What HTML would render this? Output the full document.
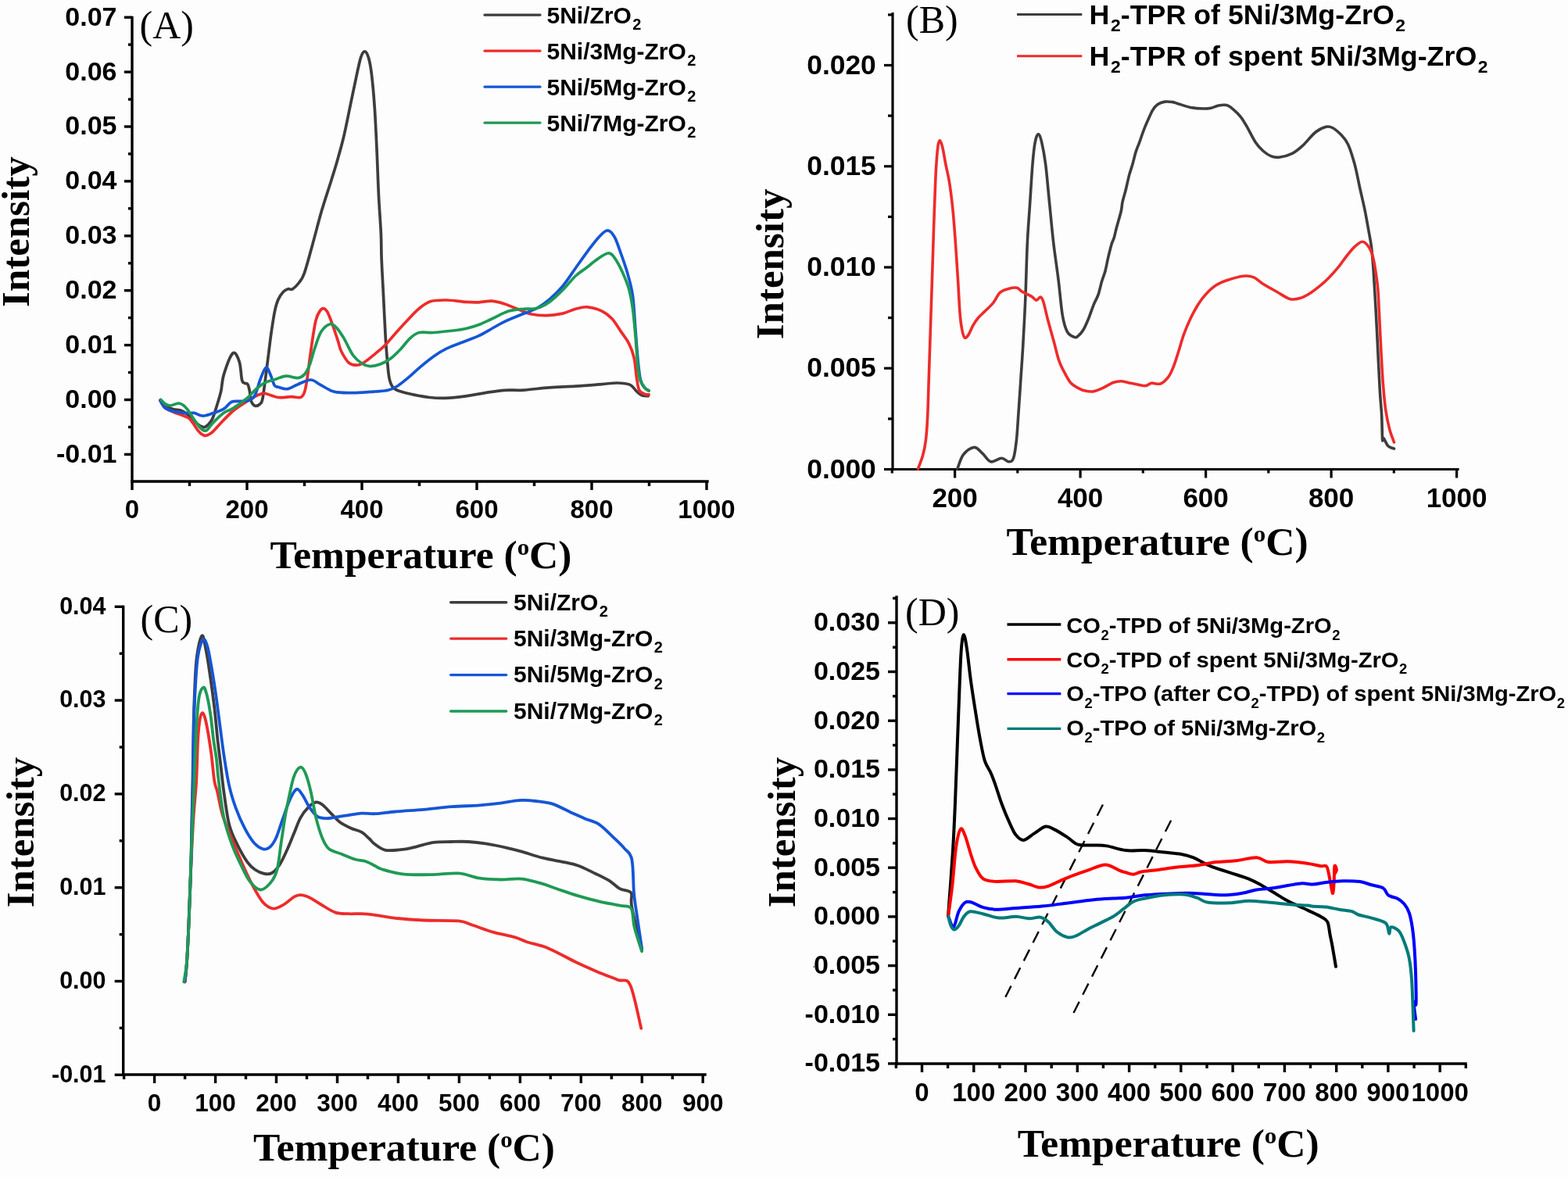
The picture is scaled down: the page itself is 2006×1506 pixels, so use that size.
<!DOCTYPE html>
<html><head><meta charset="utf-8"><title>TPR/TPD figure</title>
<style>html,body{margin:0;padding:0;background:#fff;}svg{display:block;}</style></head>
<body><div class="wrap"><svg width="2006" height="1506" viewBox="0 0 2006 1506">
<rect width="2006" height="1506" fill="#fdfdfd"/>
<line x1="169" y1="22.5" x2="169" y2="616" stroke="#000" stroke-width="3.4" stroke-linecap="square"/>
<line x1="159" y1="581.4" x2="169" y2="581.4" stroke="#000" stroke-width="3.4"/>
<text x="149.5" y="591.8" font-family="'Liberation Sans', Arial, sans-serif" font-size="34" font-weight="bold" text-anchor="end">-0.01</text>
<line x1="159" y1="511.5" x2="169" y2="511.5" stroke="#000" stroke-width="3.4"/>
<text x="149.5" y="521.9" font-family="'Liberation Sans', Arial, sans-serif" font-size="34" font-weight="bold" text-anchor="end">0.00</text>
<line x1="159" y1="441.6" x2="169" y2="441.6" stroke="#000" stroke-width="3.4"/>
<text x="149.5" y="452" font-family="'Liberation Sans', Arial, sans-serif" font-size="34" font-weight="bold" text-anchor="end">0.01</text>
<line x1="159" y1="371.7" x2="169" y2="371.7" stroke="#000" stroke-width="3.4"/>
<text x="149.5" y="382.1" font-family="'Liberation Sans', Arial, sans-serif" font-size="34" font-weight="bold" text-anchor="end">0.02</text>
<line x1="159" y1="301.8" x2="169" y2="301.8" stroke="#000" stroke-width="3.4"/>
<text x="149.5" y="312.2" font-family="'Liberation Sans', Arial, sans-serif" font-size="34" font-weight="bold" text-anchor="end">0.03</text>
<line x1="159" y1="231.9" x2="169" y2="231.9" stroke="#000" stroke-width="3.4"/>
<text x="149.5" y="242.3" font-family="'Liberation Sans', Arial, sans-serif" font-size="34" font-weight="bold" text-anchor="end">0.04</text>
<line x1="159" y1="162" x2="169" y2="162" stroke="#000" stroke-width="3.4"/>
<text x="149.5" y="172.4" font-family="'Liberation Sans', Arial, sans-serif" font-size="34" font-weight="bold" text-anchor="end">0.05</text>
<line x1="159" y1="92.1" x2="169" y2="92.1" stroke="#000" stroke-width="3.4"/>
<text x="149.5" y="102.5" font-family="'Liberation Sans', Arial, sans-serif" font-size="34" font-weight="bold" text-anchor="end">0.06</text>
<line x1="159" y1="22.2" x2="169" y2="22.2" stroke="#000" stroke-width="3.4"/>
<text x="149.5" y="32.6" font-family="'Liberation Sans', Arial, sans-serif" font-size="34" font-weight="bold" text-anchor="end">0.07</text>
<line x1="164" y1="546.5" x2="169" y2="546.5" stroke="#000" stroke-width="3.4"/>
<line x1="164" y1="476.6" x2="169" y2="476.6" stroke="#000" stroke-width="3.4"/>
<line x1="164" y1="406.6" x2="169" y2="406.6" stroke="#000" stroke-width="3.4"/>
<line x1="164" y1="336.8" x2="169" y2="336.8" stroke="#000" stroke-width="3.4"/>
<line x1="164" y1="266.8" x2="169" y2="266.8" stroke="#000" stroke-width="3.4"/>
<line x1="164" y1="196.9" x2="169" y2="196.9" stroke="#000" stroke-width="3.4"/>
<line x1="164" y1="127.1" x2="169" y2="127.1" stroke="#000" stroke-width="3.4"/>
<line x1="164" y1="57.1" x2="169" y2="57.1" stroke="#000" stroke-width="3.4"/>
<line x1="169" y1="616" x2="905" y2="616" stroke="#000" stroke-width="3.4" stroke-linecap="square"/>
<line x1="169" y1="616" x2="169" y2="627" stroke="#000" stroke-width="3.4"/>
<text x="169" y="663" font-family="'Liberation Sans', Arial, sans-serif" font-size="33" font-weight="bold" text-anchor="middle">0</text>
<line x1="316" y1="616" x2="316" y2="627" stroke="#000" stroke-width="3.4"/>
<text x="316" y="663" font-family="'Liberation Sans', Arial, sans-serif" font-size="33" font-weight="bold" text-anchor="middle">200</text>
<line x1="463" y1="616" x2="463" y2="627" stroke="#000" stroke-width="3.4"/>
<text x="463" y="663" font-family="'Liberation Sans', Arial, sans-serif" font-size="33" font-weight="bold" text-anchor="middle">400</text>
<line x1="610" y1="616" x2="610" y2="627" stroke="#000" stroke-width="3.4"/>
<text x="610" y="663" font-family="'Liberation Sans', Arial, sans-serif" font-size="33" font-weight="bold" text-anchor="middle">600</text>
<line x1="757" y1="616" x2="757" y2="627" stroke="#000" stroke-width="3.4"/>
<text x="757" y="663" font-family="'Liberation Sans', Arial, sans-serif" font-size="33" font-weight="bold" text-anchor="middle">800</text>
<line x1="904" y1="616" x2="904" y2="627" stroke="#000" stroke-width="3.4"/>
<text x="904" y="663" font-family="'Liberation Sans', Arial, sans-serif" font-size="33" font-weight="bold" text-anchor="middle">1000</text>
<line x1="242.5" y1="616" x2="242.5" y2="622" stroke="#000" stroke-width="3.4"/>
<line x1="389.5" y1="616" x2="389.5" y2="622" stroke="#000" stroke-width="3.4"/>
<line x1="536.5" y1="616" x2="536.5" y2="622" stroke="#000" stroke-width="3.4"/>
<line x1="683.5" y1="616" x2="683.5" y2="622" stroke="#000" stroke-width="3.4"/>
<line x1="830.5" y1="616" x2="830.5" y2="622" stroke="#000" stroke-width="3.4"/>
<text x="178.5" y="48.7" font-family="'Liberation Serif', 'Times New Roman', serif" font-size="50" font-weight="normal" text-anchor="start">(A)</text>
<text transform="translate(36.6 296.6) rotate(-90)" font-family="'Liberation Serif', 'Times New Roman', serif" font-size="51" font-weight="bold" text-anchor="middle">Intensity</text>
<text x="345.5" y="727" font-family="'Liberation Serif', 'Times New Roman', serif" font-size="50" font-weight="bold" text-anchor="start" textLength="386" lengthAdjust="spacingAndGlyphs">Temperature (<tspan dy="-17" font-size="30">o</tspan><tspan dy="17">C)</tspan></text>
<line x1="620" y1="19.1" x2="691" y2="19.1" stroke="#3d3d3d" stroke-width="3.4" stroke-linecap="round"/>
<text x="699.5" y="29.7" font-family="'Liberation Sans', Arial, sans-serif" font-size="30" font-weight="bold" text-anchor="start">5Ni/ZrO<tspan dx="1.5" dy="8.4" font-size="20">2</tspan></text>
<line x1="620" y1="65.1" x2="691" y2="65.1" stroke="#ee2b2b" stroke-width="3.4" stroke-linecap="round"/>
<text x="699.5" y="75.7" font-family="'Liberation Sans', Arial, sans-serif" font-size="30" font-weight="bold" text-anchor="start">5Ni/3Mg-ZrO<tspan dx="1.5" dy="8.4" font-size="20">2</tspan></text>
<line x1="620" y1="111.1" x2="691" y2="111.1" stroke="#1556d6" stroke-width="3.4" stroke-linecap="round"/>
<text x="699.5" y="121.7" font-family="'Liberation Sans', Arial, sans-serif" font-size="30" font-weight="bold" text-anchor="start">5Ni/5Mg-ZrO<tspan dx="1.5" dy="8.4" font-size="20">2</tspan></text>
<line x1="620" y1="157.1" x2="691" y2="157.1" stroke="#1e9a55" stroke-width="3.4" stroke-linecap="round"/>
<text x="699.5" y="167.7" font-family="'Liberation Sans', Arial, sans-serif" font-size="30" font-weight="bold" text-anchor="start">5Ni/7Mg-ZrO<tspan dx="1.5" dy="8.4" font-size="20">2</tspan></text>
<path d="M205 512 C206 513.2 208.2 517.6 211 519.5 C213.8 521.4 218.1 522.5 221.6 523.5 C225.1 524.5 229.1 524.3 232.2 525.5 C235.3 526.7 237.5 528.5 240.2 530.5 C242.8 532.5 245.9 535.7 248.1 537.8 C250.3 539.9 251.8 541.8 253.5 543.1 C255.2 544.4 256.6 545.2 258 545.8 C259.4 546.4 260.6 547 262 546.5 C263.4 546 265 545 266.7 543.1 C268.4 541.2 270.2 539.2 272 535.2 C273.8 531.2 275.6 525 277.4 519.2 C279.2 513.4 281.2 507.2 282.7 500.6 C284.2 494 283.8 487.5 286.3 479.4 C288.8 471.3 294.6 454.8 297.9 452 C301.2 449.2 304.3 457.1 306.2 462.8 C308.1 468.5 308.4 481.4 309.5 486 C310.6 490.6 311.6 489.2 312.8 490.2 C314.1 491.2 315.9 490.1 317 491.9 C318.1 493.7 318.8 497.6 319.5 501 C320.2 504.4 320 509.6 321.1 512.6 C322.2 515.6 324.2 518.5 326.1 519.2 C328.1 519.9 331.1 518.4 332.8 516.8 C334.5 515.1 334.9 515.5 336.1 509.3 C337.3 503.1 338.8 489.9 340.2 479.4 C341.6 468.9 343.1 455.9 344.4 446.2 C345.6 436.5 346.4 429.6 347.7 421.3 C348.9 413 350.5 402.8 351.9 396.4 C353.3 390 354.2 387 356 383.1 C357.8 379.2 360.5 375.4 362.6 373.2 C364.7 371 366.6 370.4 368.5 369.8 C370.4 369.2 371.9 371.2 374.3 369.8 C376.7 368.4 380.1 364.8 382.6 361.5 C385.1 358.2 386.3 358 389.2 349.9 C392.1 341.8 396.1 326.4 399.8 312.9 C403.6 299.4 407.7 282.7 411.7 269.1 C415.7 255.5 420.4 241.8 423.7 231.2 C427 220.6 429 214.6 431.6 205.3 C434.2 196 436.9 186.8 439.6 175.5 C442.3 164.2 445 150.2 447.6 137.6 C450.2 125 453.2 110.4 455.5 99.8 C457.8 89.2 459.7 79.6 461.5 73.9 C463.3 68.2 464.8 65.9 466.5 65.9 C468.2 65.9 470 68.9 471.5 73.9 C473 78.9 474.2 84.8 475.5 95.8 C476.8 106.8 478.2 122.3 479.4 139.6 C480.5 156.9 481.6 181.1 482.4 199.4 C483.2 217.7 483.6 232.6 484.4 249.2 C485.2 265.8 486.8 285.5 487.4 299 C488 312.5 487.6 316.5 488.1 330 C488.6 343.5 489.8 363.2 490.6 379.8 C491.4 396.4 492.3 415.8 493.1 429.6 C493.9 443.4 494.8 453.7 495.6 462.8 C496.4 471.9 496.9 478.9 498.1 484.4 C499.3 489.9 500.5 493.2 503 496 C505.5 498.8 508.6 499.5 513 501 C517.4 502.5 523.5 503.9 529.6 505.1 C535.7 506.4 542.9 507.8 549.5 508.5 C556.1 509.2 561.6 509.6 569.4 509.3 C577.1 509 587.4 507.9 596 506.8 C604.6 505.7 612.6 503.9 620.9 502.6 C629.2 501.4 637.6 499.9 645.8 499.3 C654 498.7 660.4 499.7 670 499.1 C679.6 498.5 692.1 496.6 703.2 495.8 C714.3 495 725.3 494.8 736.4 494.1 C747.5 493.4 760.8 492.3 769.6 491.6 C778.5 490.9 783.4 489.9 789.5 490 C795.6 490.1 802 490.6 806.1 492.4 C810.2 494.2 811.9 498.5 814.4 500.7 C816.9 502.9 818.6 504.7 821.1 505.7 C823.6 506.7 828 506.5 829.4 506.6" fill="none" stroke="#3d3d3d" stroke-width="3.7" stroke-linejoin="round" stroke-linecap="round"/>
<path d="M205 512.6 C206 514.1 208.2 519.1 211 521.5 C213.8 523.9 218.1 525.4 221.6 527 C225.1 528.6 229.5 530 232.2 531 C234.8 532 235.7 532.2 237.5 533.1 C239.3 534 241 534.5 242.8 536.2 C244.6 537.9 246.3 540.6 248.1 543.1 C249.9 545.6 251.8 549 253.5 551.1 C255.2 553.2 256.6 554.5 258 555.5 C259.4 556.5 260.7 557.1 262 557.3 C263.3 557.5 264.3 557.3 266 556.5 C267.7 555.7 269.2 555.3 272 552.7 C274.8 550.1 279 545 283 540.8 C287 536.6 291.8 531.4 296.2 527.5 C300.6 523.6 305.1 520.6 309.5 517.6 C313.9 514.6 319.2 511.4 322.8 509.3 C326.4 507.2 328.3 506.1 331.1 505.1 C333.9 504.1 335.2 502.9 339.4 503.5 C343.5 504.1 350.5 507.8 356 508.5 C361.5 509.2 367.9 507.6 372.6 507.6 C377.3 507.6 381.4 509.3 384.2 508.5 C387 507.7 387.8 506.1 389.2 502.6 C390.6 499.1 391.4 494.3 392.5 487.7 C393.6 481.1 394.6 471.9 395.8 462.8 C397.1 453.7 398.6 441.8 400 432.9 C401.4 424 402.6 415.5 404.1 409.7 C405.6 403.9 407.4 400.6 409.1 398.1 C410.8 395.6 412.4 394.4 414.1 394.7 C415.8 395 417.2 396.1 419.1 399.7 C421 403.3 423.5 410.2 425.7 416.3 C427.9 422.4 430.6 430.7 432.4 436.2 C434.2 441.7 434.2 444.8 436.6 449.5 C439 454.2 443 461.6 446.6 464.5 C450.2 467.4 454.6 467.4 458.2 467 C461.8 466.6 464.6 464.4 468.2 462 C471.8 459.6 475.6 456.3 479.8 452.8 C484 449.3 489 445.4 493.1 441.2 C497.2 437 500 433.1 504.7 427.9 C509.4 422.6 516 415.2 521.3 409.7 C526.5 404.2 531.2 398.7 536.2 394.7 C541.2 390.7 545.4 387.4 551.2 385.6 C557 383.8 563.6 383.9 571.1 384 C578.6 384.1 589.1 385.9 596 386.4 C602.9 386.9 607.1 387 612.6 386.8 C618.1 386.6 623.7 384.8 629.2 385.1 C634.7 385.5 640.3 387.1 645.8 388.9 C651.3 390.6 656.7 393.4 662.4 395.6 C668.1 397.8 673.8 400.7 680 402 C686.2 403.3 693.3 403.8 699.9 403.6 C706.5 403.5 713.7 402.5 719.8 401.1 C725.9 399.7 731.1 396.7 736.4 395.3 C741.6 393.9 745.8 392.4 751.3 392.8 C756.8 393.2 764.3 395.3 769.6 397.8 C774.9 400.3 778.8 403.4 782.9 407.8 C787 412.2 790.9 419.1 794.5 424.4 C798.1 429.6 801.7 433.8 804.5 439.3 C807.3 444.8 809.5 450.4 811.1 457.6 C812.8 464.8 813.3 475.6 814.4 482.5 C815.5 489.4 816 495.5 817.7 499.1 C819.4 502.7 822.3 503.1 824.4 504.1 C826.5 505.1 829.2 504.8 830.2 504.9" fill="none" stroke="#ee2b2b" stroke-width="3.7" stroke-linejoin="round" stroke-linecap="round"/>
<path d="M205 512.5 C206 514 208.2 519.5 211 521.8 C213.8 524.1 218.9 525.3 221.6 526.2 C224.2 527.1 224.2 526.8 226.9 527.2 C229.6 527.6 234 528.4 237.5 528.6 C241 528.8 245.4 528.1 248.1 528.4 C250.8 528.7 251.7 529.8 253.5 530.4 C255.3 531 257.1 531.8 258.8 532 C260.6 532.2 261.8 531.9 264 531.4 C266.2 530.9 269.3 529.7 272 528.8 C274.7 527.9 277.3 527.2 280 526.1 C282.7 525 285.3 523.9 288 521.9 C290.7 519.9 293.2 515.7 296.2 514.3 C299.2 512.9 302.6 513.7 306.2 513.4 C309.8 513.1 314.5 513.8 317.8 512.6 C321.1 511.4 323.6 510.4 326.1 506 C328.6 501.6 330.5 491.9 332.8 486 C335.1 480.1 338 471.4 340.2 470.3 C342.4 469.2 344.2 475.7 346 479.4 C347.8 483.1 349.3 490.1 351 492.7 C352.7 495.3 353.2 494.4 356 495.2 C358.8 496 363.5 498.2 367.6 497.7 C371.8 497.1 375.9 493.8 380.9 491.9 C385.9 489.9 392.8 486 397.5 486 C402.2 486 405 489.7 409.1 491.9 C413.2 494.1 418.8 497.6 422.4 499.3 C426 501 425.3 501.2 430.7 501.8 C436.1 502.4 446.7 502.7 454.9 502.6 C463.1 502.5 472.9 501.6 479.8 501 C486.7 500.4 491.7 500.4 496.4 499.3 C501.1 498.2 503.6 497.1 508 494.3 C512.4 491.5 518 486.9 523 482.7 C528 478.5 532.6 473.8 537.9 469.4 C543.1 465 549 460.1 554.5 456.2 C560 452.3 564.2 449.5 571.1 446.2 C578 442.9 589.1 439 596 436.2 C602.9 433.4 607.1 432.2 612.6 429.6 C618.1 427 623.7 423.6 629.2 420.5 C634.7 417.4 639.7 414.2 645.8 411.3 C651.9 408.4 658.9 405.8 665.7 403 C672.5 400.2 680.4 397.9 686.6 394.5 C692.9 391.1 697.7 387.6 703.2 382.9 C708.7 378.2 714.3 372.9 719.8 366.3 C725.3 359.7 730.9 350.8 736.4 343 C741.9 335.2 748 326.4 753 319.8 C758 313.2 762.3 307.4 766.3 303.2 C770.3 299 773.8 294.9 777.1 294.9 C780.4 294.9 783.3 298.2 786.2 303.2 C789.1 308.2 791.7 317.1 794.5 324.8 C797.3 332.6 800.3 340.9 802.8 349.7 C805.3 358.5 807.7 366.3 809.4 377.9 C811.1 389.5 811.7 405.6 812.8 419.4 C813.9 433.2 815 449.8 816.1 460.9 C817.2 472 818 480 819.4 485.8 C820.8 491.6 822.6 493.5 824.4 495.8 C826.2 498.1 829.2 499.2 830.2 499.9" fill="none" stroke="#1556d6" stroke-width="3.7" stroke-linejoin="round" stroke-linecap="round"/>
<path d="M205.6 511.3 C206.5 512.2 209.1 515.3 211 516.6 C212.9 517.9 215.3 518.9 217.3 519 C219.3 519.1 221.1 518 223 517.5 C224.9 517 227 515.8 229 516 C231 516.2 233 517.3 234.9 518.7 C236.8 520.1 238.4 522.2 240.2 524.5 C242 526.8 243.7 529.8 245.5 532.5 C247.3 535.2 249 538 250.8 540.5 C252.6 543 254.3 545.6 256.1 547.4 C257.9 549.2 259.9 550.7 261.4 551.1 C262.9 551.5 263.3 551.6 265.1 550 C266.9 548.4 269.5 544.3 272 541.6 C274.5 538.9 277.3 536 280 533.6 C282.7 531.2 285 529 288 527.2 C291 525.4 293.2 525.6 297.9 522.6 C302.6 519.6 311.2 513.5 316.2 509.3 C321.2 505.1 323.9 501 327.8 497.7 C331.7 494.4 335.2 491.5 339.4 489.4 C343.5 487.3 348.3 486.6 352.7 485.2 C357.1 483.8 361.3 481.4 366 481.1 C370.7 480.8 377 483.9 380.9 483.6 C384.8 483.3 386.7 482 389.2 479.4 C391.7 476.8 393.6 473.3 395.8 467.8 C398 462.3 400 453.4 402.5 446.2 C405 439 407.5 429.9 410.8 424.6 C414.1 419.4 419.1 415.5 422.4 414.7 C425.7 413.9 427.8 416.6 430.7 419.6 C433.6 422.6 436.5 427.1 440 432.9 C443.5 438.7 447.7 449.1 451.6 454.5 C455.5 459.9 459.6 462.9 463.2 465.3 C466.8 467.7 469.3 468.5 473.2 468.6 C477.1 468.7 482 467.8 486.4 466.1 C490.8 464.5 495.3 462 499.7 458.7 C504.1 455.4 508.9 450.5 513 446.2 C517.1 441.9 520.7 436.3 524.6 432.9 C528.5 429.4 531.2 426.7 536.2 425.5 C541.2 424.3 547.3 425.9 554.5 425.5 C561.7 425.1 572.5 423.8 579.4 423 C586.3 422.2 590.5 421.8 596 420.5 C601.5 419.2 607.1 417.6 612.6 415.5 C618.1 413.4 622.8 410.9 629.2 408 C635.6 405.1 644 400.2 650.8 398.1 C657.6 396 664 395.9 670 395.3 C676 394.7 681.1 396 686.6 394.5 C692.1 393 697.7 390.1 703.2 386.2 C708.7 382.3 714.3 376.8 719.8 371.3 C725.3 365.8 731.4 357.7 736.4 353 C741.4 348.3 745 346.6 749.7 343 C754.4 339.4 759.9 334.6 764.6 331.4 C769.3 328.2 774.3 324.3 777.9 324 C781.5 323.7 783.2 325.8 786.2 329.8 C789.2 333.8 793.2 341.4 796.2 348 C799.2 354.6 802.3 361.9 804.5 369.6 C806.7 377.4 808 384.8 809.4 394.5 C810.8 404.2 811.7 415.2 812.8 427.7 C813.9 440.1 815 459.2 816.1 469.2 C817.2 479.2 817.8 482.8 819.4 487.5 C821 492.2 824.2 495.3 826 497.4 C827.8 499.5 829.5 499.5 830.2 499.9" fill="none" stroke="#1e9a55" stroke-width="3.7" stroke-linejoin="round" stroke-linecap="round"/>
<line x1="1142" y1="17.5" x2="1142" y2="600.5" stroke="#000" stroke-width="3.2" stroke-linecap="square"/>
<line x1="1131" y1="600.5" x2="1142" y2="600.5" stroke="#000" stroke-width="3.2"/>
<text x="1120.8" y="611.6" font-family="'Liberation Sans', Arial, sans-serif" font-size="35.4" font-weight="bold" text-anchor="end">0.000</text>
<line x1="1131" y1="471.2" x2="1142" y2="471.2" stroke="#000" stroke-width="3.2"/>
<text x="1120.8" y="482.3" font-family="'Liberation Sans', Arial, sans-serif" font-size="35.4" font-weight="bold" text-anchor="end">0.005</text>
<line x1="1131" y1="342" x2="1142" y2="342" stroke="#000" stroke-width="3.2"/>
<text x="1120.8" y="353.1" font-family="'Liberation Sans', Arial, sans-serif" font-size="35.4" font-weight="bold" text-anchor="end">0.010</text>
<line x1="1131" y1="212.8" x2="1142" y2="212.8" stroke="#000" stroke-width="3.2"/>
<text x="1120.8" y="223.8" font-family="'Liberation Sans', Arial, sans-serif" font-size="35.4" font-weight="bold" text-anchor="end">0.015</text>
<line x1="1131" y1="83.5" x2="1142" y2="83.5" stroke="#000" stroke-width="3.2"/>
<text x="1120.8" y="94.6" font-family="'Liberation Sans', Arial, sans-serif" font-size="35.4" font-weight="bold" text-anchor="end">0.020</text>
<line x1="1136" y1="535.9" x2="1142" y2="535.9" stroke="#000" stroke-width="3.2"/>
<line x1="1136" y1="406.6" x2="1142" y2="406.6" stroke="#000" stroke-width="3.2"/>
<line x1="1136" y1="277.4" x2="1142" y2="277.4" stroke="#000" stroke-width="3.2"/>
<line x1="1136" y1="148.1" x2="1142" y2="148.1" stroke="#000" stroke-width="3.2"/>
<line x1="1136" y1="18.9" x2="1142" y2="18.9" stroke="#000" stroke-width="3.2"/>
<line x1="1142" y1="600.5" x2="1865" y2="600.5" stroke="#000" stroke-width="3.2" stroke-linecap="square"/>
<line x1="1221.6" y1="600.5" x2="1221.6" y2="611.5" stroke="#000" stroke-width="3.2"/>
<text x="1221.6" y="648.5" font-family="'Liberation Sans', Arial, sans-serif" font-size="35" font-weight="bold" text-anchor="middle">200</text>
<line x1="1382.1" y1="600.5" x2="1382.1" y2="611.5" stroke="#000" stroke-width="3.2"/>
<text x="1382.1" y="648.5" font-family="'Liberation Sans', Arial, sans-serif" font-size="35" font-weight="bold" text-anchor="middle">400</text>
<line x1="1542.6" y1="600.5" x2="1542.6" y2="611.5" stroke="#000" stroke-width="3.2"/>
<text x="1542.6" y="648.5" font-family="'Liberation Sans', Arial, sans-serif" font-size="35" font-weight="bold" text-anchor="middle">600</text>
<line x1="1703.1" y1="600.5" x2="1703.1" y2="611.5" stroke="#000" stroke-width="3.2"/>
<text x="1703.1" y="648.5" font-family="'Liberation Sans', Arial, sans-serif" font-size="35" font-weight="bold" text-anchor="middle">800</text>
<line x1="1863.6" y1="600.5" x2="1863.6" y2="611.5" stroke="#000" stroke-width="3.2"/>
<text x="1863.6" y="648.5" font-family="'Liberation Sans', Arial, sans-serif" font-size="35" font-weight="bold" text-anchor="middle">1000</text>
<line x1="1141.3" y1="600.5" x2="1141.3" y2="605.5" stroke="#000" stroke-width="3.2"/>
<line x1="1301.8" y1="600.5" x2="1301.8" y2="605.5" stroke="#000" stroke-width="3.2"/>
<line x1="1462.3" y1="600.5" x2="1462.3" y2="605.5" stroke="#000" stroke-width="3.2"/>
<line x1="1622.8" y1="600.5" x2="1622.8" y2="605.5" stroke="#000" stroke-width="3.2"/>
<line x1="1783.3" y1="600.5" x2="1783.3" y2="605.5" stroke="#000" stroke-width="3.2"/>
<text x="1159" y="42.1" font-family="'Liberation Serif', 'Times New Roman', serif" font-size="50" font-weight="normal" text-anchor="start">(B)</text>
<text transform="translate(1001.8 337.9) rotate(-90)" font-family="'Liberation Serif', 'Times New Roman', serif" font-size="51" font-weight="bold" text-anchor="middle">Intensity</text>
<text x="1287.6" y="709.5" font-family="'Liberation Serif', 'Times New Roman', serif" font-size="50" font-weight="bold" text-anchor="start" textLength="386" lengthAdjust="spacingAndGlyphs">Temperature (<tspan dy="-17" font-size="30">o</tspan><tspan dy="17">C)</tspan></text>
<line x1="1301" y1="18.5" x2="1384.3" y2="18.5" stroke="#3d3d3d" stroke-width="3.0"/>
<g transform="translate(1393.6 30.9) scale(1.038 1)">
<text x="0" y="0" font-family="'Liberation Sans', Arial, sans-serif" font-size="34.5" font-weight="bold" text-anchor="start">H<tspan dx="1.5" dy="9" font-size="22">2</tspan><tspan dy="-9">-TPR of 5Ni/3Mg-ZrO</tspan><tspan dx="1.5" dy="9" font-size="22">2</tspan></text>
</g>
<line x1="1301" y1="71.7" x2="1384.3" y2="71.7" stroke="#ee2b2b" stroke-width="3.0"/>
<g transform="translate(1393.6 84.1) scale(1.038 1)">
<text x="0" y="0" font-family="'Liberation Sans', Arial, sans-serif" font-size="34.5" font-weight="bold" text-anchor="start">H<tspan dx="1.5" dy="9" font-size="22">2</tspan><tspan dy="-9">-TPR of spent 5Ni/3Mg-ZrO</tspan><tspan dx="1.5" dy="9" font-size="22">2</tspan></text>
</g>
<path d="M1224.8 599.9 C1226.1 596.9 1228.9 586.2 1232.5 581.6 C1236.1 577 1242.1 572.6 1246.2 572.4 C1250.3 572.1 1253.3 577 1256.9 580.1 C1260.5 583.2 1263.5 589.8 1267.6 590.8 C1271.7 591.8 1277.5 586.2 1281.3 586.2 C1285.1 586.2 1288 590.8 1290.5 590.8 C1293 590.8 1294.9 590.8 1296.6 586.2 C1298.2 581.6 1299.4 572.2 1300.4 563.3 C1301.4 554.4 1301.8 545.4 1302.7 532.7 C1303.6 520 1304.8 502.2 1305.8 486.9 C1306.8 471.6 1307.8 458.9 1308.8 441.1 C1309.8 423.3 1311 401.9 1311.9 380 C1312.8 358.1 1313.4 329.5 1314.4 309.4 C1315.4 289.3 1316.6 276.2 1317.7 259.6 C1318.8 243 1319.9 222.8 1321 209.8 C1322.1 196.8 1323 188 1324.3 181.6 C1325.5 175.2 1327.1 171.6 1328.5 171.6 C1329.9 171.6 1331.1 175.2 1332.6 181.6 C1334.1 188 1335.9 196.8 1337.6 209.8 C1339.3 222.8 1340.9 243 1342.6 259.6 C1344.3 276.2 1345.7 292.8 1347.6 309.4 C1349.5 326 1352.3 343.6 1354.2 359.2 C1356.1 374.8 1357.4 392 1359.2 402.9 C1361 413.8 1362.8 419.6 1365.3 424.3 C1367.8 429.1 1372.2 430.4 1374.5 431.4 C1376.8 432.4 1377.1 431.7 1379 430.2 C1380.9 428.7 1383.5 426.1 1385.8 422.3 C1388.1 418.6 1390.3 413.1 1392.6 407.7 C1394.8 402.2 1397.2 394.7 1399.3 389.6 C1401.4 384.5 1403.3 382.1 1405 377.2 C1406.7 372.3 1408 365.4 1409.5 360.3 C1411 355.2 1412.7 351.6 1414 346.7 C1415.3 341.8 1416.1 336.5 1417.4 330.9 C1418.7 325.3 1420.6 317.4 1421.9 312.9 C1423.2 308.4 1424.2 307.7 1425.3 303.9 C1426.4 300.1 1427.2 295.9 1428.7 290.3 C1430.2 284.7 1433.1 275.4 1434.3 270 C1435.5 264.6 1435.1 262.8 1436.1 258.2 C1437.1 253.6 1439 247.9 1440.4 242.2 C1441.8 236.5 1443.2 229.4 1444.6 224.1 C1446 218.8 1447.5 215.2 1448.9 210.3 C1450.3 205.4 1451.6 199.2 1453.1 194.4 C1454.6 189.6 1456.3 186 1457.9 181.6 C1459.5 177.2 1461 172.2 1462.7 167.8 C1464.4 163.4 1466 159.5 1468 155.1 C1470 150.7 1472.3 144.9 1474.4 141.3 C1476.5 137.8 1478.2 135.7 1480.8 133.8 C1483.4 131.9 1487.1 130.6 1490.3 130.1 C1493.5 129.6 1497.3 130.2 1500 130.6 C1502.7 131 1502.4 131.3 1506.2 132.4 C1510 133.5 1517.3 136.3 1522.8 137.4 C1528.3 138.5 1535 138.9 1539.4 139 C1543.8 139.1 1546.1 138.9 1549.4 138.2 C1552.7 137.5 1556 135.5 1559.3 134.9 C1562.6 134.3 1566.2 133.8 1569.3 134.6 C1572.3 135.4 1574.6 137.4 1577.6 139.9 C1580.6 142.4 1584.5 145.9 1587.5 149.8 C1590.5 153.7 1592.8 157.8 1595.8 163.1 C1598.8 168.4 1602.5 176.4 1605.8 181.4 C1609.1 186.4 1612.5 190 1615.8 193 C1619.1 196 1622.2 198.2 1625.7 199.6 C1629.2 201 1632 201.8 1636.6 201.3 C1641.2 200.8 1648.2 198.9 1653.2 196.4 C1658.2 193.9 1661.5 191 1666.5 186.4 C1671.5 181.8 1678.1 173 1683.1 169 C1688.1 165 1692.8 163.2 1696.4 162.3 C1700 161.4 1701.4 161.7 1704.7 163.5 C1708 165.3 1713 169.6 1716.3 173.1 C1719.6 176.6 1721.8 178.6 1724.6 184.7 C1727.4 190.8 1730.4 200.5 1732.9 209.6 C1735.4 218.7 1737.3 229.5 1739.5 239.5 C1741.7 249.5 1744.3 260 1746.2 269.4 C1748.1 278.8 1749.7 288.2 1751.1 296 C1752.5 303.8 1753.5 307.9 1754.5 315.9 C1755.5 323.9 1756 330.1 1757 344.1 C1758 358.1 1759.3 382.2 1760.3 399.8 C1761.3 417.4 1762 433 1762.8 449.6 C1763.6 466.2 1764.5 485.6 1765.3 499.4 C1766.1 513.2 1767.2 522.1 1767.7 532.6 C1768.2 543.1 1768.2 557.8 1768.6 562.5 C1769 567.2 1769 559.4 1770.2 560.8 C1771.4 562.2 1773.8 568.6 1776 570.8 C1778.2 573 1782.2 573.5 1783.5 574.1" fill="none" stroke="#3d3d3d" stroke-width="3.6" stroke-linejoin="round" stroke-linecap="round"/>
<path d="M1174.4 599.9 C1175.4 597.1 1178.8 589.2 1180.5 583.1 C1182.2 577 1183.4 571.7 1184.4 563.3 C1185.4 554.9 1186.1 545.4 1186.7 532.7 C1187.3 520 1187.7 502.2 1188.2 486.9 C1188.7 471.6 1189.2 456.4 1189.7 441.1 C1190.2 425.8 1190.8 409 1191.2 395.3 C1191.7 381.6 1191.9 373.5 1192.4 359.2 C1192.9 344.9 1193.5 326 1194 309.4 C1194.5 292.8 1195.1 274.8 1195.7 259.6 C1196.3 244.4 1196.7 230 1197.4 218.1 C1198.1 206.2 1199 194.6 1199.8 188.2 C1200.6 181.8 1201.3 179.9 1202.3 179.9 C1203.3 179.9 1204.5 183.2 1205.7 188.2 C1207 193.2 1208.3 202.1 1209.8 209.8 C1211.3 217.6 1213.3 225 1214.8 234.7 C1216.3 244.4 1217.7 255.4 1218.9 267.9 C1220.2 280.3 1221.2 294.2 1222.3 309.4 C1223.4 324.6 1224.6 344.1 1225.6 359.2 C1226.5 374.3 1227.2 389.7 1228 400 C1228.8 410.3 1229.6 415.7 1230.6 421 C1231.6 426.3 1232.7 430.6 1234 431.9 C1235.3 433.2 1236.8 431.4 1238.6 428.9 C1240.4 426.4 1242.7 420.3 1244.7 416.7 C1246.7 413.1 1248.2 410.6 1250.8 407.5 C1253.3 404.4 1256.7 401.6 1260 398.3 C1263.3 395 1267.3 391.6 1270.6 387.6 C1273.8 383.6 1276.1 377.2 1279.5 374.1 C1282.9 371 1287.5 370.2 1291.1 369.2 C1294.7 368.2 1298.3 367.6 1301.1 368.3 C1303.9 369 1304.7 371.5 1307.7 373.3 C1310.8 375.1 1316.4 377.3 1319.4 379.1 C1322.5 380.9 1324.1 384 1326 384.1 C1327.9 384.2 1329.5 379.7 1331 380 C1332.5 380.3 1333.1 381 1334.8 386.1 C1336.5 391.2 1338.6 401.9 1340.9 410.5 C1343.2 419.1 1346.2 429.6 1348.5 438 C1350.8 446.4 1352.5 454.8 1354.6 460.9 C1356.6 467 1358.2 469.8 1360.8 474.7 C1363.3 479.6 1366.7 486.3 1369.9 490 C1373.1 493.7 1376.9 495.1 1380 496.8 C1383.1 498.5 1385.2 499.4 1388.3 500.1 C1391.3 500.8 1394.7 501.4 1398.3 500.9 C1401.9 500.3 1405.5 498.7 1409.9 496.8 C1414.3 494.9 1420.7 490.8 1424.8 489.3 C1428.9 487.8 1431.2 487.6 1434.8 487.7 C1438.4 487.8 1442.5 489.4 1446.4 490.2 C1450.3 491 1454.7 492.1 1458 492.6 C1461.3 493.2 1463.8 493.9 1466.3 493.5 C1468.8 493.1 1470 490.6 1473 490.2 C1476 489.8 1481 492.2 1484.6 491 C1488.2 489.8 1491.7 486.3 1494.5 482.7 C1497.3 479.1 1499 474.9 1501.2 469.4 C1503.4 463.9 1505.6 456.4 1507.8 449.5 C1510 442.6 1512 434.8 1514.5 427.9 C1517 421 1519.8 414.4 1522.8 408 C1525.8 401.6 1529.4 395 1532.7 389.7 C1536 384.4 1538.8 380.5 1542.7 376.4 C1546.6 372.2 1551.3 367.8 1556 364.8 C1560.7 361.8 1565.1 360.1 1570.9 358.2 C1576.7 356.3 1585.3 353.8 1590.8 353.2 C1596.3 352.6 1599.9 353.2 1604.1 354.9 C1608.2 356.6 1610.8 360.1 1615.7 363.2 C1620.6 366.2 1627.6 370 1633.3 373.2 C1639 376.4 1644.9 381 1649.9 382.4 C1654.9 383.8 1658.8 382.8 1663.2 381.5 C1667.6 380.2 1672 377.7 1676.4 374.9 C1680.8 372.1 1685.8 368.1 1689.7 364.9 C1693.6 361.7 1695.8 359.7 1699.7 355.7 C1703.6 351.7 1709.1 345.5 1713 340.8 C1716.9 336.1 1719.6 331.6 1722.9 327.5 C1726.2 323.4 1729.6 318.9 1732.9 315.9 C1736.2 312.8 1739.8 309.2 1742.8 309.2 C1745.8 309.2 1748.9 312.8 1751.1 315.9 C1753.3 318.9 1754.7 322.8 1756.1 327.5 C1757.5 332.2 1758.3 337 1759.4 344.1 C1760.5 351.2 1762 360.7 1762.8 370 C1763.6 379.3 1763.7 386.5 1764.4 399.8 C1765.1 413.1 1766.1 434.4 1766.9 449.6 C1767.7 464.8 1768.4 478.7 1769.4 491.1 C1770.4 503.6 1771.3 514.6 1772.7 524.3 C1774.1 534 1775.9 542.3 1777.7 549.2 C1779.5 556.1 1782.5 563 1783.5 565.8" fill="none" stroke="#ee2b2b" stroke-width="3.6" stroke-linejoin="round" stroke-linecap="round"/>
<line x1="157.7" y1="776.5" x2="157.7" y2="1375" stroke="#000" stroke-width="3.4" stroke-linecap="square"/>
<line x1="146.7" y1="1375.3" x2="157.7" y2="1375.3" stroke="#000" stroke-width="3.4"/>
<text x="135.5" y="1384.5" font-family="'Liberation Sans', Arial, sans-serif" font-size="30.5" font-weight="bold" text-anchor="end">-0.01</text>
<line x1="146.7" y1="1255.5" x2="157.7" y2="1255.5" stroke="#000" stroke-width="3.4"/>
<text x="135.5" y="1264.7" font-family="'Liberation Sans', Arial, sans-serif" font-size="30.5" font-weight="bold" text-anchor="end">0.00</text>
<line x1="146.7" y1="1135.7" x2="157.7" y2="1135.7" stroke="#000" stroke-width="3.4"/>
<text x="135.5" y="1144.9" font-family="'Liberation Sans', Arial, sans-serif" font-size="30.5" font-weight="bold" text-anchor="end">0.01</text>
<line x1="146.7" y1="1015.9" x2="157.7" y2="1015.9" stroke="#000" stroke-width="3.4"/>
<text x="135.5" y="1025.1" font-family="'Liberation Sans', Arial, sans-serif" font-size="30.5" font-weight="bold" text-anchor="end">0.02</text>
<line x1="146.7" y1="896.1" x2="157.7" y2="896.1" stroke="#000" stroke-width="3.4"/>
<text x="135.5" y="905.3" font-family="'Liberation Sans', Arial, sans-serif" font-size="30.5" font-weight="bold" text-anchor="end">0.03</text>
<line x1="146.7" y1="776.3" x2="157.7" y2="776.3" stroke="#000" stroke-width="3.4"/>
<text x="135.5" y="785.5" font-family="'Liberation Sans', Arial, sans-serif" font-size="30.5" font-weight="bold" text-anchor="end">0.04</text>
<line x1="152.7" y1="1315.4" x2="157.7" y2="1315.4" stroke="#000" stroke-width="3.4"/>
<line x1="152.7" y1="1195.6" x2="157.7" y2="1195.6" stroke="#000" stroke-width="3.4"/>
<line x1="152.7" y1="1075.8" x2="157.7" y2="1075.8" stroke="#000" stroke-width="3.4"/>
<line x1="152.7" y1="956" x2="157.7" y2="956" stroke="#000" stroke-width="3.4"/>
<line x1="152.7" y1="836.2" x2="157.7" y2="836.2" stroke="#000" stroke-width="3.4"/>
<line x1="157.7" y1="1375" x2="902" y2="1375" stroke="#000" stroke-width="3.4" stroke-linecap="square"/>
<line x1="197.6" y1="1375" x2="197.6" y2="1386" stroke="#000" stroke-width="3.4"/>
<text x="197.6" y="1422" font-family="'Liberation Sans', Arial, sans-serif" font-size="31.5" font-weight="bold" text-anchor="middle">0</text>
<line x1="275.6" y1="1375" x2="275.6" y2="1386" stroke="#000" stroke-width="3.4"/>
<text x="275.6" y="1422" font-family="'Liberation Sans', Arial, sans-serif" font-size="31.5" font-weight="bold" text-anchor="middle">100</text>
<line x1="353.5" y1="1375" x2="353.5" y2="1386" stroke="#000" stroke-width="3.4"/>
<text x="353.5" y="1422" font-family="'Liberation Sans', Arial, sans-serif" font-size="31.5" font-weight="bold" text-anchor="middle">200</text>
<line x1="431.5" y1="1375" x2="431.5" y2="1386" stroke="#000" stroke-width="3.4"/>
<text x="431.5" y="1422" font-family="'Liberation Sans', Arial, sans-serif" font-size="31.5" font-weight="bold" text-anchor="middle">300</text>
<line x1="509.4" y1="1375" x2="509.4" y2="1386" stroke="#000" stroke-width="3.4"/>
<text x="509.4" y="1422" font-family="'Liberation Sans', Arial, sans-serif" font-size="31.5" font-weight="bold" text-anchor="middle">400</text>
<line x1="587.4" y1="1375" x2="587.4" y2="1386" stroke="#000" stroke-width="3.4"/>
<text x="587.4" y="1422" font-family="'Liberation Sans', Arial, sans-serif" font-size="31.5" font-weight="bold" text-anchor="middle">500</text>
<line x1="665.4" y1="1375" x2="665.4" y2="1386" stroke="#000" stroke-width="3.4"/>
<text x="665.4" y="1422" font-family="'Liberation Sans', Arial, sans-serif" font-size="31.5" font-weight="bold" text-anchor="middle">600</text>
<line x1="743.3" y1="1375" x2="743.3" y2="1386" stroke="#000" stroke-width="3.4"/>
<text x="743.3" y="1422" font-family="'Liberation Sans', Arial, sans-serif" font-size="31.5" font-weight="bold" text-anchor="middle">700</text>
<line x1="821.3" y1="1375" x2="821.3" y2="1386" stroke="#000" stroke-width="3.4"/>
<text x="821.3" y="1422" font-family="'Liberation Sans', Arial, sans-serif" font-size="31.5" font-weight="bold" text-anchor="middle">800</text>
<line x1="899.2" y1="1375" x2="899.2" y2="1386" stroke="#000" stroke-width="3.4"/>
<text x="899.2" y="1422" font-family="'Liberation Sans', Arial, sans-serif" font-size="31.5" font-weight="bold" text-anchor="middle">900</text>
<line x1="158.6" y1="1375" x2="158.6" y2="1381" stroke="#000" stroke-width="3.4"/>
<line x1="236.6" y1="1375" x2="236.6" y2="1381" stroke="#000" stroke-width="3.4"/>
<line x1="314.5" y1="1375" x2="314.5" y2="1381" stroke="#000" stroke-width="3.4"/>
<line x1="392.5" y1="1375" x2="392.5" y2="1381" stroke="#000" stroke-width="3.4"/>
<line x1="470.5" y1="1375" x2="470.5" y2="1381" stroke="#000" stroke-width="3.4"/>
<line x1="548.4" y1="1375" x2="548.4" y2="1381" stroke="#000" stroke-width="3.4"/>
<line x1="626.4" y1="1375" x2="626.4" y2="1381" stroke="#000" stroke-width="3.4"/>
<line x1="704.3" y1="1375" x2="704.3" y2="1381" stroke="#000" stroke-width="3.4"/>
<line x1="782.3" y1="1375" x2="782.3" y2="1381" stroke="#000" stroke-width="3.4"/>
<line x1="860.3" y1="1375" x2="860.3" y2="1381" stroke="#000" stroke-width="3.4"/>
<text x="179.5" y="808.5" font-family="'Liberation Serif', 'Times New Roman', serif" font-size="50" font-weight="normal" text-anchor="start">(C)</text>
<text transform="translate(43 1065) rotate(-90)" font-family="'Liberation Serif', 'Times New Roman', serif" font-size="51" font-weight="bold" text-anchor="middle">Intensity</text>
<text x="324" y="1484.7" font-family="'Liberation Serif', 'Times New Roman', serif" font-size="50" font-weight="bold" text-anchor="start" textLength="386" lengthAdjust="spacingAndGlyphs">Temperature (<tspan dy="-17" font-size="30">o</tspan><tspan dy="17">C)</tspan></text>
<line x1="576.7" y1="770.7" x2="647.7" y2="770.7" stroke="#3d3d3d" stroke-width="3.4" stroke-linecap="round"/>
<text x="657" y="780.5" font-family="'Liberation Sans', Arial, sans-serif" font-size="30" font-weight="bold" text-anchor="start">5Ni/ZrO<tspan dx="1.5" dy="8.4" font-size="20">2</tspan></text>
<line x1="576.7" y1="817.1" x2="647.7" y2="817.1" stroke="#ee2b2b" stroke-width="3.4" stroke-linecap="round"/>
<text x="657" y="826.9" font-family="'Liberation Sans', Arial, sans-serif" font-size="30" font-weight="bold" text-anchor="start">5Ni/3Mg-ZrO<tspan dx="1.5" dy="8.4" font-size="20">2</tspan></text>
<line x1="576.7" y1="863.6" x2="647.7" y2="863.6" stroke="#1556d6" stroke-width="3.4" stroke-linecap="round"/>
<text x="657" y="873.4" font-family="'Liberation Sans', Arial, sans-serif" font-size="30" font-weight="bold" text-anchor="start">5Ni/5Mg-ZrO<tspan dx="1.5" dy="8.4" font-size="20">2</tspan></text>
<line x1="576.7" y1="910" x2="647.7" y2="910" stroke="#1e9a55" stroke-width="3.4" stroke-linecap="round"/>
<text x="657" y="919.8" font-family="'Liberation Sans', Arial, sans-serif" font-size="30" font-weight="bold" text-anchor="start">5Ni/7Mg-ZrO<tspan dx="1.5" dy="8.4" font-size="20">2</tspan></text>
<path d="M236.6 1255.5 C237 1251.2 238.3 1242.7 239.1 1230 C239.9 1217.3 240.8 1198.7 241.6 1179.2 C242.4 1159.7 243.4 1135 244.1 1112.8 C244.8 1090.6 245.1 1064.8 245.5 1046 C245.9 1027.2 246.2 1018.9 246.5 1000 C246.8 981.1 247.1 952.8 247.5 932.8 C247.9 912.8 248.5 895.2 249.2 879.7 C249.9 864.2 250.3 850.9 251.9 839.8 C253.5 828.7 256.5 814.4 258.5 813.3 C260.5 812.2 262 824.4 263.8 833.2 C265.6 842.1 267.3 854.2 269.1 866.4 C270.9 878.6 272.8 892.9 274.4 906.2 C275.9 919.5 277.1 933.9 278.4 946.1 C279.7 958.3 281.1 968.1 282.4 979.3 C283.7 990.5 284.6 1000.6 286.4 1013.2 C288.2 1025.8 290.3 1043.6 293.1 1054.7 C295.9 1065.8 299.1 1071.6 303 1079.6 C306.9 1087.6 312.4 1097.3 316.3 1102.8 C320.2 1108.3 322.7 1110.3 326.3 1112.8 C329.9 1115.3 334.3 1117.1 337.9 1117.8 C341.5 1118.5 344.6 1118.9 347.9 1117 C351.2 1115.1 354.5 1111.3 357.8 1106.2 C361.1 1101.1 364.8 1092.9 367.8 1086.2 C370.9 1079.5 373.3 1072.9 376.1 1066.3 C378.9 1059.7 381.4 1051.9 384.4 1046.4 C387.4 1040.9 391 1036.4 394.3 1033.1 C397.6 1029.8 401.2 1027 404.3 1026.5 C407.4 1026 409.6 1027.6 412.6 1029.8 C415.7 1032 419 1036.2 422.6 1039.8 C426.2 1043.4 429.8 1048.1 434.2 1051.4 C438.6 1054.7 444.4 1057.5 449.1 1059.7 C453.8 1061.9 458.5 1062.5 462.4 1064.7 C466.3 1066.9 469.6 1070.5 472.4 1073 C475.2 1075.5 475.5 1077.2 479 1079.7 C482.5 1082.2 487.3 1086.6 493.3 1087.8 C499.3 1089 508.3 1087.7 514.9 1086.9 C521.5 1086.2 526.2 1084.8 532.8 1083.3 C539.4 1081.8 546.9 1079 554.4 1077.9 C561.9 1076.9 570.2 1077.2 577.7 1077 C585.2 1076.8 591.7 1076.5 599.2 1077 C606.7 1077.5 614.1 1078.4 622.5 1079.7 C630.9 1081 642 1083.4 649.5 1085.1 C657 1086.8 659.9 1087.5 667.4 1089.6 C674.9 1091.7 685.3 1095.5 694.3 1097.7 C703.3 1100 713.8 1101.5 721.3 1103.1 C728.8 1104.7 733.2 1105.4 739.2 1107.5 C745.2 1109.6 750.6 1112.4 757.2 1115.6 C763.8 1118.8 772.7 1122.8 778.7 1126.4 C784.7 1130 788.2 1134.5 793 1137.2 C797.8 1139.9 804.9 1138.6 807.4 1142.5 C809.9 1146.4 806 1148.3 808.3 1160.5 C810.6 1172.7 819 1206.7 821.1 1215.9" fill="none" stroke="#3d3d3d" stroke-width="3.8" stroke-linejoin="round" stroke-linecap="round"/>
<path d="M236.6 1256.5 C237 1252.1 238.3 1242.9 239.1 1230 C239.9 1217.1 240.8 1198.7 241.6 1179.2 C242.4 1159.7 243.1 1134.9 244.1 1112.8 C245.1 1090.7 246.3 1065.2 247.5 1046.4 C248.7 1027.6 250.2 1016.7 251.2 1000 C252.1 983.3 252.4 959.5 253.2 946.1 C254 932.7 254.9 925.1 255.9 919.5 C256.9 913.9 258.1 912.2 259.2 912.2 C260.3 912.2 261.3 915 262.5 919.5 C263.7 924 265.2 931.6 266.5 939.4 C267.8 947.1 269.2 955.9 270.5 966 C271.8 976.1 273.1 992.1 274.4 1000 C275.7 1007.9 276.4 1006 278.1 1013.2 C279.8 1020.4 281.8 1033.1 284.8 1043.1 C287.9 1053.1 292.2 1062.8 296.4 1073 C300.5 1083.2 305.3 1094.5 309.7 1104.5 C314.1 1114.5 318.6 1124.4 323 1132.7 C327.4 1141 331.8 1149.3 336.2 1154.3 C340.6 1159.3 345.1 1162 349.5 1162.6 C353.9 1163.1 358.4 1160.1 362.8 1157.6 C367.2 1155.1 372.5 1149.8 376.1 1147.7 C379.7 1145.6 381.1 1145.1 384.4 1145.2 C387.7 1145.3 391.3 1146.3 396 1148.5 C400.7 1150.7 407.1 1155.3 412.6 1158.5 C418.1 1161.7 423.7 1165.8 429.2 1167.6 C434.7 1169.4 440.3 1168.9 445.8 1169.2 C451.3 1169.5 456.7 1168.9 462.4 1169.2 C468.1 1169.5 472.8 1170 480 1170.9 C487.2 1171.8 495.6 1173.7 505.9 1174.8 C516.2 1175.9 528.3 1176.9 541.8 1177.5 C555.3 1178.1 576.2 1177.4 586.7 1178.4 C597.2 1179.5 597.1 1181.4 604.6 1183.8 C612.1 1186.2 622.5 1190.2 631.5 1192.8 C640.5 1195.3 651.3 1197 658.4 1199.1 C665.5 1201.2 667 1202.8 674.1 1205.2 C681.2 1207.6 690.8 1208.9 701.1 1213.2 C711.4 1217.5 725.8 1225.8 736.1 1230.8 C746.4 1235.8 754.1 1239.1 763.1 1242.9 C772.1 1246.7 782.9 1250.8 790.1 1253.7 C797.3 1256.6 801.2 1250.1 806.2 1260.4 C811.2 1270.7 817.9 1306.5 820.3 1315.7" fill="none" stroke="#ee2b2b" stroke-width="3.8" stroke-linejoin="round" stroke-linecap="round"/>
<path d="M236.6 1255.5 C237 1251.2 238.3 1242.7 239.1 1230 C239.9 1217.3 240.8 1198.7 241.6 1179.2 C242.4 1159.7 243.4 1135 244.1 1112.8 C244.8 1090.6 245.4 1064.8 245.8 1046 C246.2 1027.2 246.5 1018.9 246.8 1000 C247.2 981.1 247.4 952.8 247.9 932.8 C248.4 912.8 249 895.2 249.9 879.7 C250.8 864.2 251.5 850 253.2 839.8 C254.8 829.6 257.8 820.8 259.8 818.6 C261.8 816.4 263.4 820.9 265.2 826.6 C267 832.4 268.7 843.2 270.5 853.1 C272.3 863 274 874.1 275.8 886.3 C277.6 898.5 279.3 912.9 281.1 926.2 C282.9 939.5 284.4 952.9 286.4 966 C288.4 979.1 290.6 993.7 293.1 1004.9 C295.6 1016.1 298.1 1024 301.4 1033.1 C304.7 1042.2 309.1 1052.2 313 1059.7 C316.9 1067.2 320.7 1073.5 324.6 1077.9 C328.5 1082.3 332.9 1085.1 336.2 1086.2 C339.5 1087.3 341.7 1086.8 344.5 1084.6 C347.3 1082.4 350 1078.8 352.8 1073 C355.6 1067.2 358.3 1057.5 361.1 1049.7 C363.9 1042 366.9 1032.6 369.4 1026.5 C371.9 1020.4 374.2 1016 376.1 1013.2 C378.1 1010.4 379.2 1009.1 381.1 1009.9 C383 1010.7 385.2 1014.3 387.7 1018.2 C390.2 1022.1 392.9 1028.7 396 1033.1 C399.1 1037.5 402.4 1042.3 406 1044.7 C409.6 1047.1 413.7 1047.1 417.6 1047.2 C421.5 1047.3 424.5 1046.3 429.2 1045.6 C433.9 1044.9 440.3 1043.9 445.8 1043.1 C451.3 1042.3 456.7 1040.9 462.4 1040.6 C468.1 1040.3 472.8 1041.5 480 1041.2 C487.2 1040.9 495.6 1039.4 505.9 1038.5 C516.2 1037.6 529.8 1036.8 541.8 1035.8 C553.8 1034.8 565.7 1033.1 577.7 1032.2 C589.7 1031.3 603.1 1031.2 613.6 1030.4 C624.1 1029.7 632.1 1028.8 640.5 1027.7 C648.9 1026.7 656.3 1024.5 663.8 1024.1 C671.3 1023.6 678.2 1024.2 685.4 1025 C692.6 1025.8 699.4 1026.2 706.9 1028.6 C714.4 1031 723.3 1036.3 730.2 1039.4 C737.1 1042.5 742.2 1044.9 748.2 1047.4 C754.2 1049.9 760.1 1050.7 766.1 1054.6 C772.1 1058.5 778.7 1065.7 784.1 1070.8 C789.5 1075.9 794.4 1080.3 798.4 1085.1 C802.4 1089.9 806.2 1089.9 808.3 1099.5 C810.4 1109.1 810 1130.8 811 1142.5 C812 1154.2 813.2 1159.9 814.6 1169.5 C816 1179.1 818 1192.7 819.1 1200 C820.2 1207.3 820.8 1211 821.1 1213.2" fill="none" stroke="#1556d6" stroke-width="3.8" stroke-linejoin="round" stroke-linecap="round"/>
<path d="M235.3 1256.3 C235.9 1251.9 238.1 1242.8 239.1 1230 C240.1 1217.2 240.8 1198.7 241.6 1179.2 C242.4 1159.7 243.3 1134.9 244.1 1112.8 C244.9 1090.7 245.8 1065.2 246.6 1046.4 C247.3 1027.6 247.8 1018.9 248.6 1000 C249.4 981.1 250.2 950.6 251.2 932.8 C252.2 915 253.1 901.9 254.5 893 C255.9 884.1 258.2 880.8 259.8 879.7 C261.4 878.6 262.2 880.8 263.8 886.3 C265.4 891.8 267.6 902.9 269.1 912.9 C270.7 922.9 271.8 936.1 273.1 946.1 C274.4 956.1 276 963.6 277.1 972.6 C278.2 981.6 278.2 987.7 279.8 1000 C281.4 1012.3 283.6 1033.1 286.4 1046.4 C289.2 1059.7 292.8 1069.6 296.4 1079.6 C300 1089.6 304.1 1098.2 308 1106.2 C311.9 1114.2 315.5 1122.3 319.6 1127.7 C323.8 1133.1 328.5 1138.2 332.9 1138.5 C337.3 1138.8 342.6 1133.7 346.2 1129.4 C349.8 1125.1 352.3 1121.1 354.5 1112.8 C356.7 1104.5 357.8 1090.7 359.5 1079.6 C361.2 1068.5 362.9 1056.1 364.5 1046.4 C366.1 1036.7 367.5 1030.3 369.4 1021.5 C371.3 1012.6 373.6 999.9 376.1 993.3 C378.6 986.7 381.9 982.2 384.4 981.7 C386.9 981.2 388.8 984.8 391 990 C393.2 995.2 395.5 1003.8 397.7 1013.2 C399.9 1022.6 401.8 1036.4 404.3 1046.4 C406.8 1056.4 409.8 1066.4 412.6 1073 C415.4 1079.6 416.8 1082.9 420.9 1086.2 C425 1089.5 432 1090.7 437.5 1092.9 C443 1095.1 449.1 1098 454.1 1099.5 C459.1 1101 463.1 1100.6 467.4 1102 C471.7 1103.4 476.6 1106.3 480 1108 C483.4 1109.7 482.1 1110.3 487.9 1112 C493.7 1113.7 504.4 1117.1 514.9 1118.3 C525.4 1119.5 538.8 1119.3 550.8 1119.2 C562.8 1119.1 576.2 1116.7 586.7 1117.4 C597.2 1118.2 604.6 1122.4 613.6 1123.7 C622.6 1125 631.5 1125.3 640.5 1125.5 C649.5 1125.7 658.4 1123.7 667.4 1124.6 C676.4 1125.5 686.8 1128.8 694.3 1130.9 C701.8 1133 704.8 1134.7 712.3 1137.2 C719.8 1139.7 730.2 1143.4 739.2 1146.1 C748.2 1148.8 757.1 1151.2 766.1 1153.3 C775.1 1155.4 786.1 1157.2 793 1158.7 C799.9 1160.2 804.3 1157.7 807.4 1162.3 C810.5 1166.9 809.3 1177.1 811.6 1186.3 C813.9 1195.5 819.5 1212.1 821.1 1217.3" fill="none" stroke="#1e9a55" stroke-width="3.8" stroke-linejoin="round" stroke-linecap="round"/>
<line x1="1147" y1="764" x2="1147" y2="1361" stroke="#000" stroke-width="3.4" stroke-linecap="square"/>
<line x1="1136" y1="1360.9" x2="1147" y2="1360.9" stroke="#000" stroke-width="3.4"/>
<text x="1126" y="1371.3" font-family="'Liberation Sans', Arial, sans-serif" font-size="34" font-weight="bold" text-anchor="end">-0.015</text>
<line x1="1136" y1="1298.3" x2="1147" y2="1298.3" stroke="#000" stroke-width="3.4"/>
<text x="1126" y="1308.6" font-family="'Liberation Sans', Arial, sans-serif" font-size="34" font-weight="bold" text-anchor="end">-0.010</text>
<line x1="1136" y1="1235.6" x2="1147" y2="1235.6" stroke="#000" stroke-width="3.4"/>
<text x="1126" y="1246" font-family="'Liberation Sans', Arial, sans-serif" font-size="34" font-weight="bold" text-anchor="end">0.005</text>
<line x1="1136" y1="1172.9" x2="1147" y2="1172.9" stroke="#000" stroke-width="3.4"/>
<text x="1126" y="1183.3" font-family="'Liberation Sans', Arial, sans-serif" font-size="34" font-weight="bold" text-anchor="end">0.000</text>
<line x1="1136" y1="1110.2" x2="1147" y2="1110.2" stroke="#000" stroke-width="3.4"/>
<text x="1126" y="1120.6" font-family="'Liberation Sans', Arial, sans-serif" font-size="34" font-weight="bold" text-anchor="end">0.005</text>
<line x1="1136" y1="1047.5" x2="1147" y2="1047.5" stroke="#000" stroke-width="3.4"/>
<text x="1126" y="1057.9" font-family="'Liberation Sans', Arial, sans-serif" font-size="34" font-weight="bold" text-anchor="end">0.010</text>
<line x1="1136" y1="984.9" x2="1147" y2="984.9" stroke="#000" stroke-width="3.4"/>
<text x="1126" y="995.2" font-family="'Liberation Sans', Arial, sans-serif" font-size="34" font-weight="bold" text-anchor="end">0.015</text>
<line x1="1136" y1="922.2" x2="1147" y2="922.2" stroke="#000" stroke-width="3.4"/>
<text x="1126" y="932.6" font-family="'Liberation Sans', Arial, sans-serif" font-size="34" font-weight="bold" text-anchor="end">0.020</text>
<line x1="1136" y1="859.5" x2="1147" y2="859.5" stroke="#000" stroke-width="3.4"/>
<text x="1126" y="869.9" font-family="'Liberation Sans', Arial, sans-serif" font-size="34" font-weight="bold" text-anchor="end">0.025</text>
<line x1="1136" y1="796.8" x2="1147" y2="796.8" stroke="#000" stroke-width="3.4"/>
<text x="1126" y="807.2" font-family="'Liberation Sans', Arial, sans-serif" font-size="34" font-weight="bold" text-anchor="end">0.030</text>
<line x1="1142" y1="1329.6" x2="1147" y2="1329.6" stroke="#000" stroke-width="3.4"/>
<line x1="1142" y1="1266.9" x2="1147" y2="1266.9" stroke="#000" stroke-width="3.4"/>
<line x1="1142" y1="1204.2" x2="1147" y2="1204.2" stroke="#000" stroke-width="3.4"/>
<line x1="1142" y1="1141.6" x2="1147" y2="1141.6" stroke="#000" stroke-width="3.4"/>
<line x1="1142" y1="1078.9" x2="1147" y2="1078.9" stroke="#000" stroke-width="3.4"/>
<line x1="1142" y1="1016.2" x2="1147" y2="1016.2" stroke="#000" stroke-width="3.4"/>
<line x1="1142" y1="953.5" x2="1147" y2="953.5" stroke="#000" stroke-width="3.4"/>
<line x1="1142" y1="890.8" x2="1147" y2="890.8" stroke="#000" stroke-width="3.4"/>
<line x1="1142" y1="828.2" x2="1147" y2="828.2" stroke="#000" stroke-width="3.4"/>
<line x1="1142" y1="765.5" x2="1147" y2="765.5" stroke="#000" stroke-width="3.4"/>
<circle cx="1041.5" cy="1237" r="1.1" fill="#556"/>
<line x1="1147" y1="1361" x2="1875" y2="1361" stroke="#000" stroke-width="3.4" stroke-linecap="square"/>
<line x1="1179.5" y1="1361" x2="1179.5" y2="1372" stroke="#000" stroke-width="3.4"/>
<text x="1179.5" y="1408.5" font-family="'Liberation Sans', Arial, sans-serif" font-size="33" font-weight="bold" text-anchor="middle">0</text>
<line x1="1245.8" y1="1361" x2="1245.8" y2="1372" stroke="#000" stroke-width="3.4"/>
<text x="1245.8" y="1408.5" font-family="'Liberation Sans', Arial, sans-serif" font-size="33" font-weight="bold" text-anchor="middle">100</text>
<line x1="1312" y1="1361" x2="1312" y2="1372" stroke="#000" stroke-width="3.4"/>
<text x="1312" y="1408.5" font-family="'Liberation Sans', Arial, sans-serif" font-size="33" font-weight="bold" text-anchor="middle">200</text>
<line x1="1378.3" y1="1361" x2="1378.3" y2="1372" stroke="#000" stroke-width="3.4"/>
<text x="1378.3" y="1408.5" font-family="'Liberation Sans', Arial, sans-serif" font-size="33" font-weight="bold" text-anchor="middle">300</text>
<line x1="1444.6" y1="1361" x2="1444.6" y2="1372" stroke="#000" stroke-width="3.4"/>
<text x="1444.6" y="1408.5" font-family="'Liberation Sans', Arial, sans-serif" font-size="33" font-weight="bold" text-anchor="middle">400</text>
<line x1="1510.8" y1="1361" x2="1510.8" y2="1372" stroke="#000" stroke-width="3.4"/>
<text x="1510.8" y="1408.5" font-family="'Liberation Sans', Arial, sans-serif" font-size="33" font-weight="bold" text-anchor="middle">500</text>
<line x1="1577.1" y1="1361" x2="1577.1" y2="1372" stroke="#000" stroke-width="3.4"/>
<text x="1577.1" y="1408.5" font-family="'Liberation Sans', Arial, sans-serif" font-size="33" font-weight="bold" text-anchor="middle">600</text>
<line x1="1643.4" y1="1361" x2="1643.4" y2="1372" stroke="#000" stroke-width="3.4"/>
<text x="1643.4" y="1408.5" font-family="'Liberation Sans', Arial, sans-serif" font-size="33" font-weight="bold" text-anchor="middle">700</text>
<line x1="1709.7" y1="1361" x2="1709.7" y2="1372" stroke="#000" stroke-width="3.4"/>
<text x="1709.7" y="1408.5" font-family="'Liberation Sans', Arial, sans-serif" font-size="33" font-weight="bold" text-anchor="middle">800</text>
<line x1="1775.9" y1="1361" x2="1775.9" y2="1372" stroke="#000" stroke-width="3.4"/>
<text x="1775.9" y="1408.5" font-family="'Liberation Sans', Arial, sans-serif" font-size="33" font-weight="bold" text-anchor="middle">900</text>
<line x1="1842.2" y1="1361" x2="1842.2" y2="1372" stroke="#000" stroke-width="3.4"/>
<text x="1842.2" y="1408.5" font-family="'Liberation Sans', Arial, sans-serif" font-size="33" font-weight="bold" text-anchor="middle">1000</text>
<line x1="1146.4" y1="1361" x2="1146.4" y2="1367" stroke="#000" stroke-width="3.4"/>
<line x1="1212.6" y1="1361" x2="1212.6" y2="1367" stroke="#000" stroke-width="3.4"/>
<line x1="1278.9" y1="1361" x2="1278.9" y2="1367" stroke="#000" stroke-width="3.4"/>
<line x1="1345.2" y1="1361" x2="1345.2" y2="1367" stroke="#000" stroke-width="3.4"/>
<line x1="1411.4" y1="1361" x2="1411.4" y2="1367" stroke="#000" stroke-width="3.4"/>
<line x1="1477.7" y1="1361" x2="1477.7" y2="1367" stroke="#000" stroke-width="3.4"/>
<line x1="1544" y1="1361" x2="1544" y2="1367" stroke="#000" stroke-width="3.4"/>
<line x1="1610.3" y1="1361" x2="1610.3" y2="1367" stroke="#000" stroke-width="3.4"/>
<line x1="1676.5" y1="1361" x2="1676.5" y2="1367" stroke="#000" stroke-width="3.4"/>
<line x1="1742.8" y1="1361" x2="1742.8" y2="1367" stroke="#000" stroke-width="3.4"/>
<line x1="1809.1" y1="1361" x2="1809.1" y2="1367" stroke="#000" stroke-width="3.4"/>
<line x1="1875.3" y1="1361" x2="1875.3" y2="1367" stroke="#000" stroke-width="3.4"/>
<text x="1158" y="799.8" font-family="'Liberation Serif', 'Times New Roman', serif" font-size="50" font-weight="normal" text-anchor="start">(D)</text>
<text transform="translate(1016.5 1065) rotate(-90)" font-family="'Liberation Serif', 'Times New Roman', serif" font-size="51" font-weight="bold" text-anchor="middle">Intensity</text>
<text x="1301.7" y="1480.2" font-family="'Liberation Serif', 'Times New Roman', serif" font-size="50" font-weight="bold" text-anchor="start" textLength="386" lengthAdjust="spacingAndGlyphs">Temperature (<tspan dy="-17" font-size="30">o</tspan><tspan dy="17">C)</tspan></text>
<line x1="1288.5" y1="799" x2="1357.3" y2="799" stroke="#000" stroke-width="3.4"/>
<g transform="translate(1364.3 810.1) scale(1.023 1)">
<text x="0" y="0" font-family="'Liberation Sans', Arial, sans-serif" font-size="28.5" font-weight="bold" text-anchor="start">CO<tspan dx="0.5" dy="8.8" font-size="18">2</tspan><tspan dy="-8.8">-TPD of 5Ni/3Mg-ZrO</tspan><tspan dx="0.5" dy="8.8" font-size="18">2</tspan></text>
</g>
<line x1="1288.5" y1="843.8" x2="1357.3" y2="843.8" stroke="#ff0000" stroke-width="3.4"/>
<g transform="translate(1364.3 853.6) scale(1.023 1)">
<text x="0" y="0" font-family="'Liberation Sans', Arial, sans-serif" font-size="28.5" font-weight="bold" text-anchor="start">CO<tspan dx="0.5" dy="8.8" font-size="18">2</tspan><tspan dy="-8.8">-TPD of spent 5Ni/3Mg-ZrO</tspan><tspan dx="0.5" dy="8.8" font-size="18">2</tspan></text>
</g>
<line x1="1288.5" y1="887.6" x2="1357.3" y2="887.6" stroke="#0000ff" stroke-width="3.4"/>
<g transform="translate(1364.3 897.1) scale(1.023 1)">
<text x="0" y="0" font-family="'Liberation Sans', Arial, sans-serif" font-size="28.5" font-weight="bold" text-anchor="start">O<tspan dx="0.5" dy="8.8" font-size="18">2</tspan><tspan dy="-8.8">-TPO (after CO</tspan><tspan dx="0.5" dy="8.8" font-size="18">2</tspan><tspan dy="-8.8">-TPD) of spent 5Ni/3Mg-ZrO</tspan><tspan dx="0.5" dy="8.8" font-size="18">2</tspan></text>
</g>
<line x1="1288.5" y1="932.4" x2="1357.3" y2="932.4" stroke="#007a7a" stroke-width="3.4"/>
<g transform="translate(1364.3 941.2) scale(1.023 1)">
<text x="0" y="0" font-family="'Liberation Sans', Arial, sans-serif" font-size="28.5" font-weight="bold" text-anchor="start">O<tspan dx="0.5" dy="8.8" font-size="18">2</tspan><tspan dy="-8.8">-TPO of 5Ni/3Mg-ZrO</tspan><tspan dx="0.5" dy="8.8" font-size="18">2</tspan></text>
</g>
<line x1="1286.3" y1="1275.8" x2="1413.7" y2="1024.1" stroke="#000" stroke-width="2.4" stroke-dasharray="16 10"/>
<line x1="1373.5" y1="1296" x2="1500.6" y2="1044.9" stroke="#000" stroke-width="2.4" stroke-dasharray="16 10"/>
<path d="M1213 1172.5 C1214 1158.8 1217.4 1113.9 1218.9 1090 C1220.4 1066.1 1220.9 1052.4 1221.9 1029 C1222.9 1005.6 1223.9 975.9 1224.9 949.4 C1225.9 922.9 1227.1 889.6 1227.9 869.7 C1228.7 849.8 1229.1 839.4 1229.9 829.8 C1230.7 820.2 1231.7 811.9 1232.9 811.9 C1234.1 811.9 1235.4 820.2 1236.9 829.8 C1238.4 839.4 1240 856.4 1241.8 869.7 C1243.6 883 1245.8 896.9 1247.8 909.5 C1249.8 922.1 1251.8 934.8 1253.8 945.4 C1255.8 956 1257.5 966 1259.8 973.3 C1262.1 980.6 1265.4 983.9 1267.7 989.2 C1270 994.5 1271.4 998.5 1273.7 1005.1 C1276 1011.7 1278.7 1021 1281.7 1029 C1284.7 1037 1288.6 1046.4 1291.6 1052.9 C1294.6 1059.5 1296.6 1064.6 1299.6 1068.3 C1302.6 1072 1305.7 1075.2 1309.6 1074.9 C1313.5 1074.6 1318.1 1069.5 1322.8 1066.6 C1327.5 1063.7 1333.4 1058.3 1337.8 1057.5 C1342.2 1056.7 1344.7 1059.2 1349.4 1061.6 C1354.1 1063.9 1361 1068.4 1366 1071.6 C1371 1074.8 1373.8 1079 1379.3 1080.7 C1384.8 1082.4 1393.1 1081.2 1399.2 1081.5 C1405.3 1081.8 1409 1081.3 1415.8 1082.4 C1422.6 1083.5 1431.8 1087.1 1440 1088.1 C1448.2 1089 1456.6 1087.7 1464.9 1088.1 C1473.2 1088.5 1482 1089.8 1489.8 1090.6 C1497.5 1091.4 1505.3 1091.9 1511.4 1093 C1517.5 1094.1 1520.2 1094.7 1526.3 1097.2 C1532.4 1099.7 1540.2 1104.8 1547.9 1108 C1555.7 1111.2 1564.5 1113.5 1572.8 1116.3 C1581.1 1119.1 1590.8 1121.8 1597.7 1124.6 C1604.6 1127.4 1608.8 1129.9 1614.3 1132.9 C1619.8 1135.9 1625.4 1139.5 1630.9 1142.8 C1636.4 1146.1 1640.6 1149.2 1647.5 1152.8 C1654.4 1156.4 1665.3 1161 1672.4 1164.4 C1679.5 1167.8 1685.7 1170.5 1690 1173 C1694.3 1175.5 1696.4 1175.7 1698.3 1179.6 C1700.2 1183.5 1700.5 1190.7 1701.6 1196.2 C1702.7 1201.7 1703.7 1206 1704.9 1212.8 C1706.1 1219.6 1708.3 1232.8 1709 1236.8" fill="none" stroke="#000" stroke-width="4.0" stroke-linejoin="round" stroke-linecap="round"/>
<path d="M1213.3 1171.2 C1214.1 1164.8 1216.6 1147.7 1218.3 1133 C1220 1118.3 1221.4 1095.2 1223.2 1083.2 C1225 1071.2 1227 1063 1229 1060.8 C1231 1058.6 1232.8 1064.8 1234.9 1069.9 C1237 1075 1239.3 1084.8 1241.5 1091.5 C1243.7 1098.2 1245.3 1104.3 1248.1 1109.8 C1250.9 1115.3 1253.7 1121.7 1258.1 1124.7 C1262.5 1127.7 1267.8 1127.6 1274.7 1128 C1281.6 1128.4 1292.7 1126.7 1299.6 1127.2 C1306.5 1127.8 1311.2 1129.9 1316.2 1131.3 C1321.2 1132.7 1325.3 1135.1 1329.5 1135.5 C1333.7 1135.9 1336.4 1135.3 1341.1 1133.8 C1345.8 1132.3 1352.2 1128.8 1357.7 1126.4 C1363.2 1124.1 1368.8 1121.8 1374.3 1119.7 C1379.8 1117.6 1384.3 1116.1 1390.9 1113.9 C1397.5 1111.7 1407.2 1106.4 1414.1 1106.4 C1421 1106.4 1428.1 1112.2 1432.4 1113.9 C1436.7 1115.6 1437.1 1115.5 1440 1116.3 C1442.9 1117.1 1446.7 1118.9 1450 1118.8 C1453.3 1118.7 1454.7 1116.5 1459.9 1115.5 C1465.2 1114.5 1473.8 1114 1481.5 1113 C1489.2 1112 1498.1 1110.6 1506.4 1109.6 C1514.7 1108.6 1523 1108.3 1531.3 1107.2 C1539.6 1106.1 1547.9 1104 1556.2 1103 C1564.5 1102 1572.5 1102.3 1581.1 1101.3 C1589.7 1100.3 1600.8 1096.9 1607.7 1097.2 C1614.6 1097.5 1616 1102.2 1622.6 1103 C1629.2 1103.8 1639.2 1101.9 1647.5 1102.2 C1655.8 1102.5 1665.3 1103.7 1672.4 1104.7 C1679.5 1105.7 1685.8 1107.5 1690 1108.2 C1694.2 1108.9 1695.5 1106 1697.4 1109 C1699.3 1112 1700.3 1120.8 1701.6 1126.5 C1702.8 1132.2 1704.1 1142.5 1704.9 1143.1 C1705.7 1143.6 1706.2 1135.6 1706.6 1129.8 C1707 1124 1706.9 1111 1707.4 1108.2 C1708 1105.4 1709.9 1111.5 1709.9 1113.2 C1709.9 1114.9 1707.8 1117.4 1707.4 1118.2" fill="none" stroke="#ff0000" stroke-width="4.0" stroke-linejoin="round" stroke-linecap="round"/>
<path d="M1213.3 1172.8 C1214.4 1175 1217.7 1187.2 1219.9 1186.1 C1222.1 1185 1224.1 1171.5 1226.6 1166.2 C1229.1 1161 1232.1 1156.5 1234.9 1154.6 C1237.7 1152.7 1239.3 1153.5 1243.2 1154.6 C1247.1 1155.7 1252.8 1159.7 1258.1 1161.2 C1263.3 1162.7 1267.8 1163.6 1274.7 1163.7 C1281.6 1163.8 1289.9 1162.7 1299.6 1162 C1309.3 1161.3 1321.7 1160.7 1332.8 1159.6 C1343.9 1158.5 1354.9 1156.8 1366 1155.4 C1377.1 1154 1389.5 1152.3 1399.2 1151.3 C1408.9 1150.3 1417.3 1150 1424.1 1149.6 C1430.9 1149.2 1433.2 1149.4 1440 1148.7 C1446.8 1148 1456.6 1146.1 1464.9 1145.3 C1473.2 1144.5 1480.1 1144.1 1489.8 1143.7 C1499.5 1143.3 1510.5 1142.5 1523 1142.8 C1535.5 1143.1 1553.4 1145.3 1564.5 1145.3 C1575.6 1145.3 1582.5 1143.9 1589.4 1142.8 C1596.3 1141.7 1600.5 1139.7 1606 1138.7 C1611.5 1137.7 1617.1 1137.7 1622.6 1137 C1628.1 1136.3 1632.3 1135.6 1639.2 1134.5 C1646.1 1133.4 1657.3 1130.9 1664.1 1130.4 C1670.9 1129.9 1674.6 1131.7 1680 1131.5 C1685.4 1131.3 1690.2 1129.7 1696.6 1129 C1703 1128.3 1711 1127.5 1718.2 1127.3 C1725.4 1127.1 1733.7 1127.3 1739.8 1128.1 C1745.9 1128.9 1749.7 1130.9 1754.7 1132.3 C1759.7 1133.7 1766 1134.2 1769.6 1136.4 C1773.2 1138.6 1773.2 1143.4 1776.3 1145.6 C1779.3 1147.8 1784.6 1147.9 1787.9 1149.7 C1791.2 1151.5 1793.7 1153.2 1796.2 1156.3 C1798.7 1159.3 1801 1162.7 1802.8 1168 C1804.6 1173.3 1805.9 1180.4 1807 1187.9 C1808.1 1195.4 1808.8 1203.1 1809.5 1212.8 C1810.2 1222.5 1810.8 1234.1 1811.1 1246 C1811.4 1257.9 1812 1278 1811.6 1284.1 C1811.2 1290.2 1808.7 1279.2 1808.6 1282.5 C1808.5 1285.8 1810.7 1300.5 1811.1 1304.1" fill="none" stroke="#0000ff" stroke-width="4.0" stroke-linejoin="round" stroke-linecap="round"/>
<path d="M1213.3 1172.8 C1213.8 1174.8 1215.3 1181.7 1216.6 1184.5 C1217.8 1187.3 1219.1 1189.4 1220.8 1189.4 C1222.5 1189.4 1224.5 1187.3 1226.6 1184.5 C1228.7 1181.7 1230.7 1175.8 1233.2 1172.8 C1235.7 1169.8 1237.3 1166.8 1241.5 1166.2 C1245.7 1165.7 1252 1168.1 1258.1 1169.5 C1264.2 1170.9 1271.1 1174 1278 1174.5 C1284.9 1175 1293.2 1172.7 1299.6 1172.8 C1306 1172.9 1311 1175.1 1316.2 1175.3 C1321.5 1175.5 1326.9 1173 1331.1 1173.7 C1335.2 1174.4 1337.5 1176.3 1341.1 1179.5 C1344.7 1182.7 1348.5 1189.5 1352.7 1192.8 C1356.9 1196.1 1362.1 1198.6 1366 1199.4 C1369.9 1200.2 1371.8 1199.4 1376 1197.7 C1380.2 1196 1385.7 1192.2 1390.9 1189.4 C1396.2 1186.6 1402 1183.9 1407.5 1181.1 C1413 1178.3 1419.1 1175.8 1424.1 1172.8 C1429.1 1169.8 1433.1 1166.1 1437.4 1162.9 C1441.7 1159.7 1445.4 1155.8 1450 1153.6 C1454.6 1151.4 1458.3 1150.9 1464.9 1149.5 C1471.5 1148.1 1481.5 1146.1 1489.8 1145.3 C1498.1 1144.5 1507.8 1143.9 1514.7 1144.5 C1521.6 1145.1 1526.3 1147 1531.3 1148.7 C1536.3 1150.4 1537.7 1153.4 1544.6 1154.5 C1551.5 1155.6 1563.9 1155.6 1572.8 1155.3 C1581.7 1155 1589.4 1152.9 1597.7 1152.8 C1606 1152.7 1614.3 1153.8 1622.6 1154.5 C1630.9 1155.2 1639.2 1156.3 1647.5 1157 C1655.8 1157.7 1667 1158.1 1672.4 1158.6 C1677.8 1159 1676 1159.4 1680 1159.7 C1684 1160 1691.1 1159.8 1696.6 1160.5 C1702.1 1161.2 1707.7 1162.8 1713.2 1163.8 C1718.7 1164.8 1725.7 1165.2 1729.8 1166.3 C1733.9 1167.4 1733.9 1169.1 1738.1 1170.5 C1742.2 1171.9 1748.9 1172.8 1754.7 1174.6 C1760.5 1176.4 1769.2 1177.9 1772.9 1181.2 C1776.6 1184.5 1776 1193.7 1777.1 1194.5 C1778.2 1195.3 1777.5 1186.8 1779.6 1186.2 C1781.7 1185.7 1786.7 1188.2 1789.5 1191.2 C1792.3 1194.2 1794 1198.7 1796.2 1204.5 C1798.4 1210.3 1801.2 1217.8 1802.8 1226.1 C1804.4 1234.4 1805.3 1242.7 1806.1 1254.3 C1806.9 1265.9 1807.4 1285 1807.8 1295.8 C1808.2 1306.6 1808.5 1315.1 1808.6 1319" fill="none" stroke="#007a7a" stroke-width="4.0" stroke-linejoin="round" stroke-linecap="round"/>
</svg></div></body></html>
